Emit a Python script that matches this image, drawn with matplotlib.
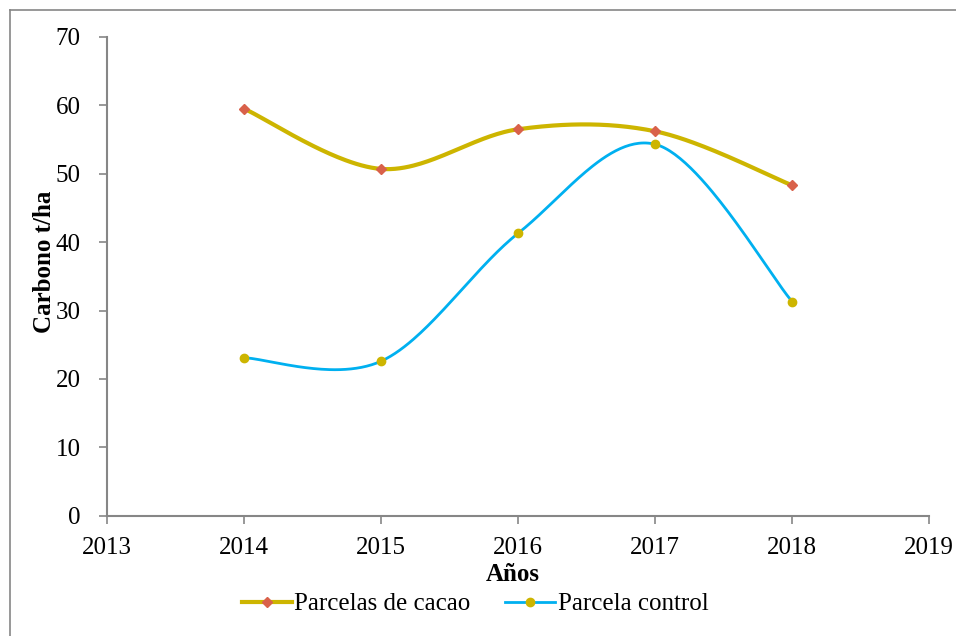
import numpy as np
import matplotlib
matplotlib.use("Agg")
import matplotlib.pyplot as plt
from matplotlib.lines import Line2D

years = [2014, 2015, 2016, 2017, 2018]
cacao = [59.5, 50.7, 56.5, 56.2, 48.3]
control = [23.1, 22.6, 41.3, 54.3, 31.3]
xticks = [2013, 2014, 2015, 2016, 2017, 2018, 2019]
yticks = [0, 10, 20, 30, 40, 50, 60, 70]
labels = ["Parcelas de cacao", "Parcela control"]

plt.rcParams['font.family'] = ['Liberation Serif', 'DejaVu Serif']

def smooth(x, y, n=60):
    x = np.asarray(x, float); y = np.asarray(y, float)
    P = np.column_stack([x, y])
    Pe = np.vstack([P[0], P, P[-1]])
    out = []
    for i in range(len(P) - 1):
        p0, p3 = P[i], P[i + 1]
        p1 = p0 + (Pe[i + 2] - Pe[i]) / 6.0
        p2 = p3 - (Pe[i + 3] - Pe[i + 1]) / 6.0
        t = np.linspace(0, 1, n)[:, None]
        seg = ((1 - t) ** 3) * p0 + 3 * ((1 - t) ** 2) * t * p1 + 3 * (1 - t) * t ** 2 * p2 + t ** 3 * p3
        out.append(seg if i == 0 else seg[1:])
    s = np.vstack(out)
    return s[:, 0], s[:, 1]

fig = plt.figure(figsize=(9.56, 6.36), dpi=100)
ax = fig.add_axes([0.112, 0.189, 0.860, 0.753])

c_line = '#CDB500'
c_mark = '#D9614A'
b_line = '#00B0F0'
b_mark = '#CDB500'

sx, sy = smooth(years, cacao)
ax.plot(sx, sy, color=c_line, lw=3.0, solid_capstyle='round', zorder=3)
ax.plot(years, cacao, ls='none', marker='D', ms=5, color=c_mark, zorder=4)
sx, sy = smooth(years, control)
ax.plot(sx, sy, color=b_line, lw=2.0, solid_capstyle='round', zorder=3)
ax.plot(years, control, ls='none', marker='o', ms=6, color=b_mark, zorder=4)

ax.set_xlim(2013, 2019)
ax.set_ylim(0, 70)
ax.set_xticks(xticks)
ax.set_yticks(yticks)
ax.tick_params(axis='both', labelsize=18, direction='out', length=6, width=1.2,
               color='#868686')
ax.tick_params(axis='y', pad=13)
ax.tick_params(axis='x', pad=9)
for side in ['top', 'right']:
    ax.spines[side].set_visible(False)
for side in ['left', 'bottom']:
    ax.spines[side].set_color('#868686')
    ax.spines[side].set_linewidth(1.5)

ax.set_xlabel('Años', fontsize=18, fontweight='bold')
ax.set_ylabel('Carbono t/ha', fontsize=18, fontweight='bold')
ax.yaxis.set_label_coords(-0.062, 0.53)
ax.xaxis.set_label_coords(0.493, -0.098)

handles = [Line2D([], [], color=c_line, lw=3.0, marker='D', ms=5, mfc=c_mark, mec=c_mark),
           Line2D([], [], color=b_line, lw=2.0, marker='o', ms=6, mfc=b_mark, mec=b_mark)]
fig.legend(handles, labels, loc='center', bbox_to_anchor=(0.497, 0.05), ncol=2,
           frameon=False, fontsize=18, handlelength=2.0, handletextpad=0.1,
           columnspacing=1.4, markerscale=1.0)

# outer chart-area border (left and top visible)
fig.add_artist(Line2D([9.5 / 956, 9.5 / 956], [0, 1 - 9.5 / 636], transform=fig.transFigure,
                      color='#868686', lw=1.2))
fig.add_artist(Line2D([9.5 / 956, 1], [1 - 9.5 / 636, 1 - 9.5 / 636], transform=fig.transFigure,
                      color='#868686', lw=1.2))

fig.savefig('out.png', dpi=100)
